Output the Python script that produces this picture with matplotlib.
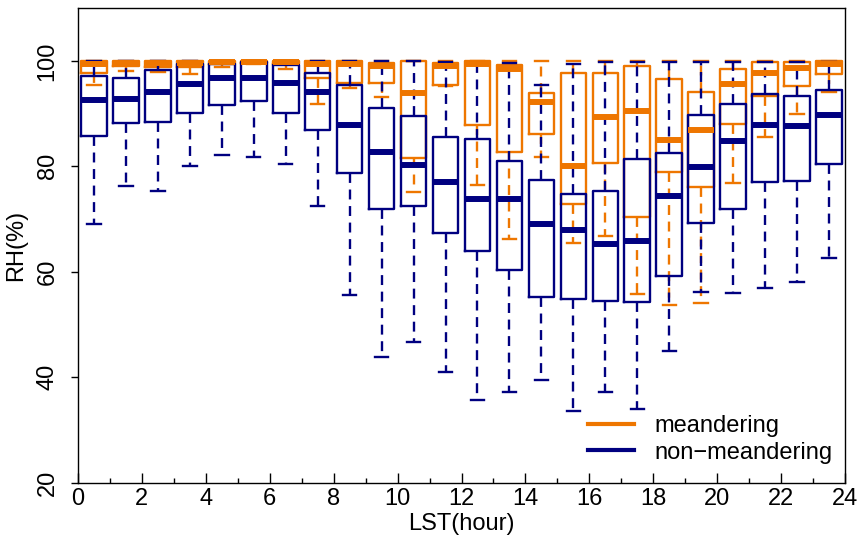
import matplotlib
matplotlib.use("Agg")
from matplotlib import pyplot as plt
from matplotlib.lines import Line2D
from matplotlib.ticker import MultipleLocator

plt.rcParams["font.family"] = ["Liberation Sans", "DejaVu Sans"]

hours = [h + 0.5 for h in range(24)]

# relative humidity quantiles per hour: lower whisker, Q1, median, Q3, upper whisker
mea_lo = [95.4, 98.1, 97.9, 97.5, 98.8, 99.4, 98.4, 91.9, 94.9, 93.2, 75.2, 95.3,
          76.4, 66.2, 81.7, 65.4, 66.7, 55.8, 53.6, 54.0, 76.9, 85.5, 90.0, 94.2]
mea_q1 = [97.8, 99.0, 98.9, 98.8, 99.4, 99.6, 99.4, 96.7, 95.9, 95.8, 81.6, 95.5,
          87.9, 82.8, 86.2, 72.9, 80.6, 70.4, 79.0, 76.1, 88.1, 93.4, 95.2, 97.6]
mea_med = [99.5, 99.7, 99.6, 99.7, 99.8, 99.9, 99.8, 99.5, 99.5, 99.1, 93.9, 99.1,
           99.4, 98.4, 92.2, 80.1, 89.4, 90.6, 85.0, 86.9, 95.6, 97.7, 98.7, 99.5]
mea_q3 = [100, 100, 100, 100, 100, 100, 100, 100, 100, 99.6, 100, 99.6,
          100, 99.3, 93.9, 97.7, 97.7, 99.0, 96.6, 94.2, 98.5, 99.8, 99.9, 100]
mea_hi = [100] * 24

non_lo = [69.0, 76.3, 75.3, 80.1, 82.1, 81.8, 80.4, 72.5, 55.5, 43.8, 46.6, 41.0,
          35.7, 37.1, 39.5, 33.6, 37.2, 34.0, 45.0, 56.2, 55.9, 56.9, 58.1, 62.7]
non_q1 = [85.8, 88.3, 88.4, 90.2, 91.6, 92.5, 90.1, 86.9, 78.7, 72.0, 72.4, 67.3,
          64.0, 60.4, 55.3, 54.8, 54.5, 54.3, 59.1, 69.3, 71.9, 77.1, 77.3, 80.5]
non_med = [92.6, 92.8, 94.1, 95.6, 96.7, 96.7, 95.9, 94.2, 87.9, 82.8, 80.3, 77.1,
           73.8, 73.8, 69.0, 68.0, 65.2, 65.9, 74.3, 79.8, 84.9, 87.9, 87.6, 89.8]
non_q3 = [97.2, 96.7, 98.2, 99.4, 99.4, 99.9, 99.2, 97.8, 95.5, 91.1, 89.6, 85.5,
          85.2, 81.1, 77.5, 74.7, 75.4, 81.4, 82.6, 89.7, 91.8, 93.7, 93.3, 94.5]
non_hi = [100, 100, 100, 100, 100, 100, 100, 100, 100, 100, 100, 99.9,
          99.6, 99.7, 95.5, 99.4, 99.9, 99.9, 99.9, 99.9, 99.9, 99.9, 99.9, 99.9]

ORANGE = "#EE7600"
NAVY = "#000080"


def make_stats(lo, q1, med, q3, hi):
    return [dict(whislo=a, q1=b, med=c, q3=d, whishi=e, fliers=[])
            for a, b, c, d, e in zip(lo, q1, med, q3, hi)]


def draw_boxes(ax, stats, color):
    ax.bxp(
        stats,
        positions=hours,
        widths=0.8,
        capwidths=0.42,
        showfliers=False,
        manage_ticks=False,
        boxprops=dict(color=color, linewidth=1.7),
        medianprops=dict(color=color, linewidth=4.3, solid_capstyle="butt"),
        whiskerprops=dict(color=color, linewidth=1.7, linestyle=(0, (4.2, 2.8))),
        capprops=dict(color=color, linewidth=1.7),
    )


fig = plt.figure(figsize=(8.64, 5.46), dpi=100)
ax = fig.add_axes([0.0903, 0.1163, 0.8877, 0.8685])

# meandering first, non-meandering drawn on top
draw_boxes(ax, make_stats(mea_lo, mea_q1, mea_med, mea_q3, mea_hi), ORANGE)
draw_boxes(ax, make_stats(non_lo, non_q1, non_med, non_q3, non_hi), NAVY)

ax.set_xlim(0, 24)
ax.set_ylim(20, 110)

ax.xaxis.set_major_locator(MultipleLocator(2))
ax.xaxis.set_minor_locator(MultipleLocator(1))
ax.tick_params(axis="x", which="major", direction="in", length=7, width=1,
               labelsize=17, pad=4)
ax.tick_params(axis="x", which="minor", direction="in", length=3.4, width=1)
ax.set_yticks([20, 40, 60, 80, 100])
ax.tick_params(axis="y", direction="out", length=5, width=1, labelsize=17,
               labelrotation=90, pad=9)
for lab in ax.get_yticklabels():
    lab.set_va("center")

for sp in ax.spines.values():
    sp.set_linewidth(1.0)

ax.set_xlabel("LST(hour)", fontsize=17, labelpad=2)
ax.set_ylabel("RH(%)", fontsize=17, labelpad=7)

handles = [Line2D([], [], color=ORANGE, linewidth=3),
           Line2D([], [], color=NAVY, linewidth=3)]
ax.legend(handles, ["meandering", "non\u2212meandering"], loc="lower left",
          bbox_to_anchor=(0.665, 0.04), frameon=False, fontsize=17,
          handlelength=1.95, handletextpad=0.85, labelspacing=0.2,
          borderpad=0, borderaxespad=0)

fig.savefig("out.png", dpi=100)
